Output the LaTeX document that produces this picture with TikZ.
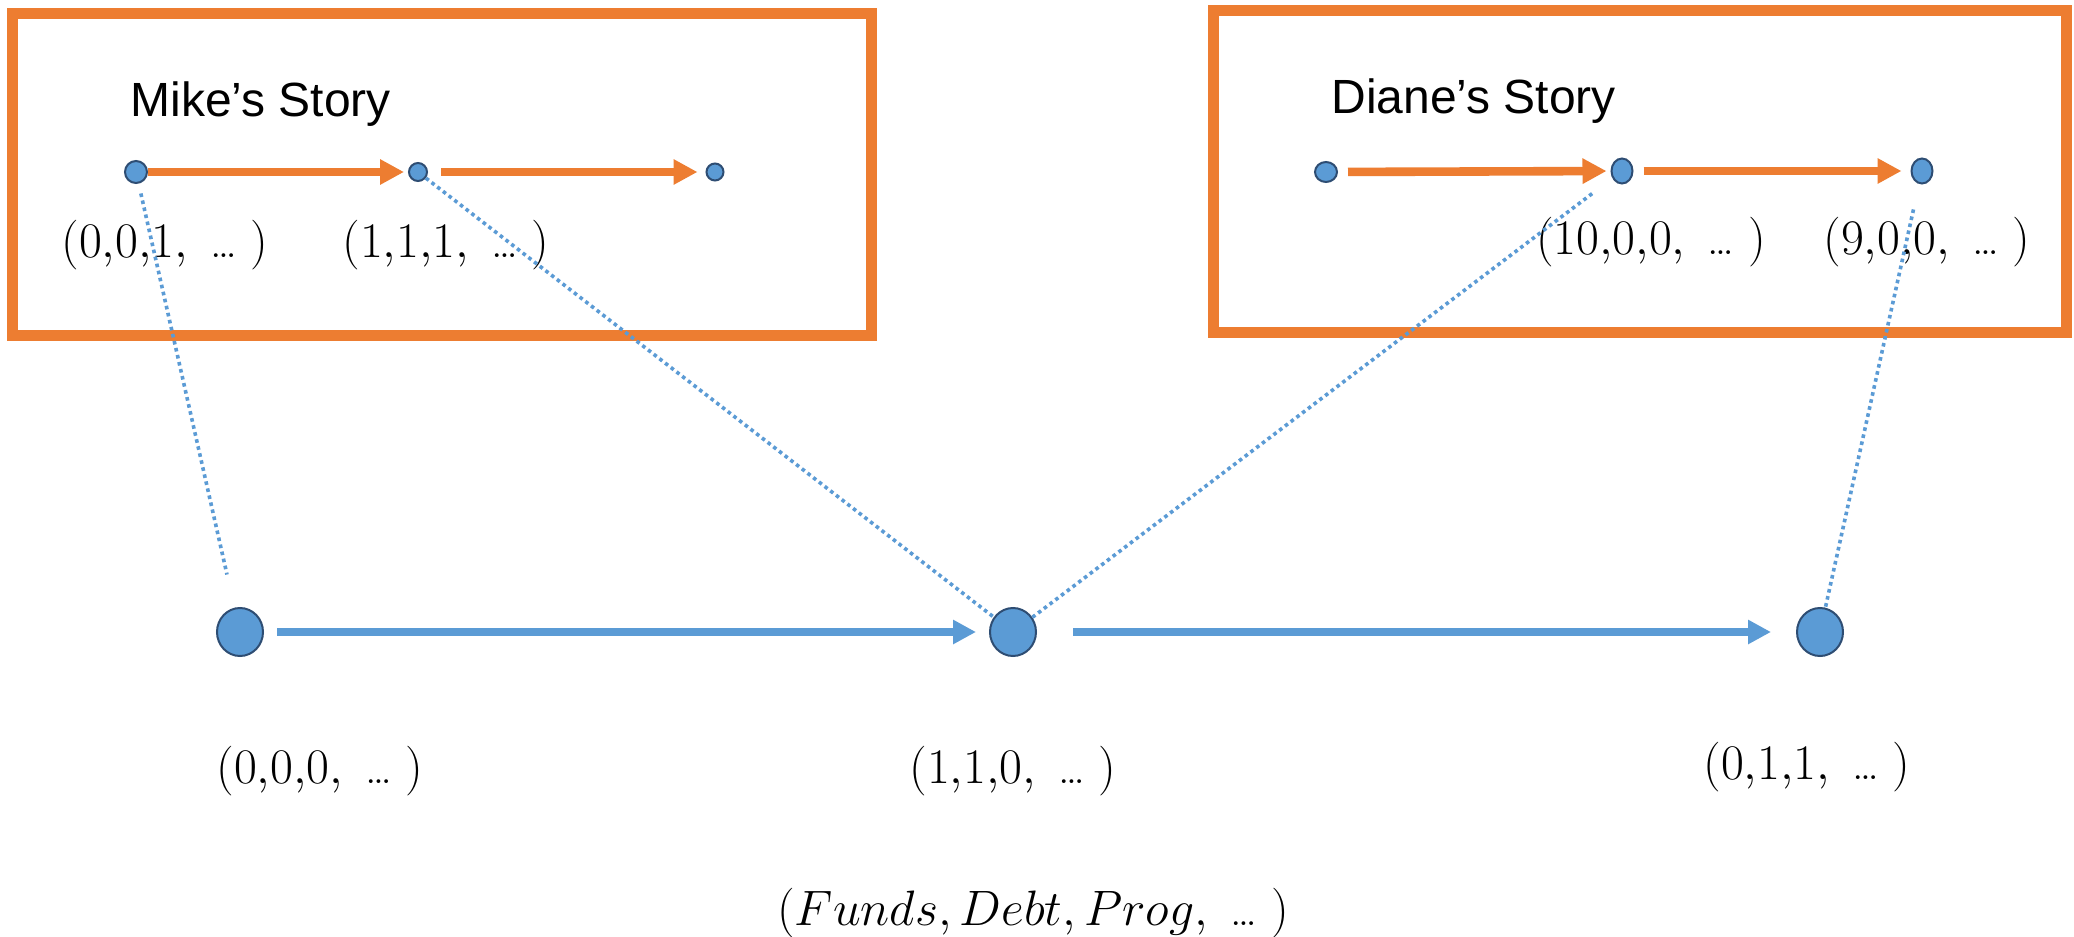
\documentclass[tikz,border=0pt]{standalone}
\usepackage{fontspec}
\newfontfamily\storyfont{Liberation Sans}
\usetikzlibrary{arrows.meta,shapes.geometric}
\definecolor{obox}{HTML}{ED7D31}
\definecolor{bfill}{HTML}{5B9BD5}
\definecolor{bline}{HTML}{2E4D73}
\newcommand{\cm}{{,}}
\newcommand{\myell}{\ \hbox{…}\;}
\begin{document}
\begin{tikzpicture}[x=0.5pt,y=-0.5pt,
  storybox/.style={draw=obox, line width=5.5pt, inner sep=0pt, rectangle},
  storytext/.style={font=\storyfont\fontsize{24}{28}\selectfont, anchor=west, inner sep=0pt},
  dot/.style={ellipse, fill=bfill, draw=bline, line width=1pt, inner sep=0pt},
  bigdot/.style={dot, minimum width=23pt, minimum height=24pt},
  oarrow/.style={draw=obox, line width=4.3pt, -{Triangle[length=12pt,width=12pt]}},
  barrow/.style={draw=bfill, line width=4.2pt, -{Triangle[length=11.5pt,width=11.5pt]}},
  mathlabel/.style={font=\fontsize{23}{27}\selectfont, inner sep=0pt},
  dotline/.style={draw=bfill, line width=1.8pt, dash pattern=on 1.8pt off 1.8pt}
]
\useasboundingbox (0,0) rectangle (2074,937);
\fill[white] (0,0) rectangle (2074,937);

% story frames
\node[storybox, minimum width=429.5pt, minimum height=161pt] (mikebox) at (441.5,174) {};
\node[storybox, minimum width=426.5pt, minimum height=161pt] (dianebox) at (1639.5,171) {};
\node[storytext] (miketitle) at (130,104) {Mike’s Story};
\node[storytext] (dianetitle) at (1331,101) {Diane’s Story};

% story nodes
\node[dot, minimum width=11pt, minimum height=11pt] (m1) at (136,172) {};
\node[dot, minimum width=9pt, minimum height=9pt] (m2) at (418,172) {};
\node[dot, minimum width=8.5pt, minimum height=8.5pt] (m3) at (715,172) {};
\node[dot, minimum width=11pt, minimum height=10pt] (d1) at (1326,172) {};
\node[dot, minimum width=10.5pt, minimum height=12.5pt] (d2) at (1622,171) {};
\node[dot, minimum width=10.5pt, minimum height=12.5pt] (d3) at (1922,171) {};

\draw[oarrow, shorten >=2pt] (m1) -- (m2);
\draw[oarrow, shorten <=6.5pt, shorten >=4pt] (m2) -- (m3);
\draw[oarrow, shorten <=5pt, shorten >=2pt] (d1) -- (d2);
\draw[oarrow, shorten <=5pt, shorten >=4.5pt] (d2) -- (d3);

\node[mathlabel] (l001) at (165,245) {$(0\cm0\cm1,\myell)$};
\node[mathlabel] (l111) at (446,245) {$(1\cm1\cm1,\myell)$};
\node[mathlabel] (l1000) at (1651,242) {$(10\cm0\cm0,\myell)$};
\node[mathlabel] (l900) at (1927,242) {$(9\cm0\cm0,\myell)$};

% main nodes
\node[bigdot] (b1) at (240,632) {};
\node[bigdot] (b2) at (1013,632) {};
\node[bigdot] (b3) at (1820,632) {};

\draw[barrow, shorten <=6.5pt, shorten >=6.5pt] (b1) -- (b2);
\draw[barrow, shorten <=18pt, shorten >=12.5pt] (b2) -- (b3);

\node[mathlabel] (l000) at (320,771) {$(0\cm0\cm0,\myell)$};
\node[mathlabel] (l110) at (1013,771) {$(1\cm1\cm0,\myell)$};
\node[mathlabel] (l011) at (1807,767) {$(0\cm1\cm1,\myell)$};
\node[mathlabel] (lvars) at (1033,913) {$(Funds, Debt, Prog,\myell)$};

% dotted correspondences
\draw[dotline, shorten <=5pt, shorten >=17pt] (m1) -- (b1);
\draw[dotline] (m2) -- (b2);
\draw[dotline, shorten >=11pt] (b2) -- (d2);
\draw[dotline, shorten <=13pt] (d3) -- (b3);
\end{tikzpicture}
\end{document}
